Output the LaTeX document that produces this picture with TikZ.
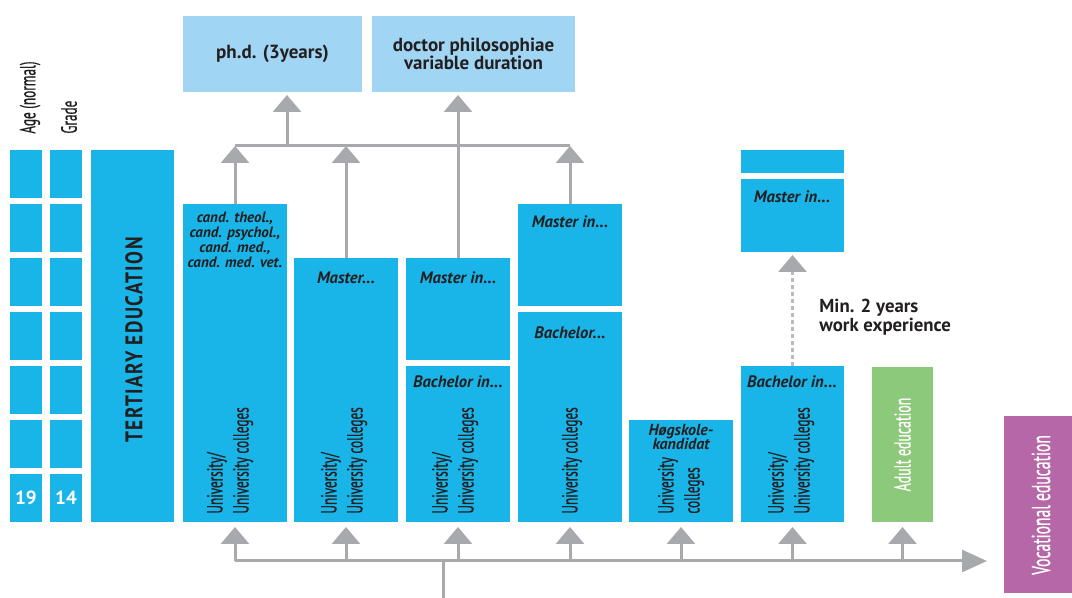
\documentclass[tikz,border=0pt]{standalone}
\usepackage{fontspec}
\setmainfont{PT Sans}
\newfontfamily\narrowfont[FakeStretch=0.6,FakeBold=0.5]{PT Sans}
\newfontfamily\tertfont[FakeStretch=0.8,LetterSpace=6.0]{PT Sans}
\usepackage{tikz}
\usetikzlibrary{arrows.meta}
\usepackage{xcolor}
\definecolor{edublue}{RGB}{25,181,233}
\definecolor{phdblue}{RGB}{160,214,244}
\definecolor{adultgreen}{RGB}{141,201,122}
\definecolor{vocpurple}{RGB}{182,103,167}
\definecolor{arrowgray}{RGB}{167,169,172}
\definecolor{dashgray}{RGB}{185,186,188}
\definecolor{inkdark}{RGB}{35,31,32}

\begin{document}
\begin{tikzpicture}[x=0.5pt, y=-0.5pt,
    box/.style={rectangle, fill=edublue, anchor=north west, inner sep=0pt, outer sep=0pt},
    topbox/.style={box, fill=phdblue, minimum height=38pt, align=center, text=inkdark,
        font=\bfseries\fontsize{9.5}{9}\selectfont},
    num/.style={text=white, font=\bfseries\fontsize{9.5}{11}\selectfont},
    lbl/.style={inner sep=0pt, align=center, text=inkdark, font=\bfseries\itshape\fontsize{8.3}{8}\selectfont},
    inst/.style={rotate=90, anchor=west, align=left, inner sep=0pt, text=inkdark,
        font=\narrowfont\fontsize{11}{13}\selectfont},
    gline/.style={draw=arrowgray, line width=1.5pt},
    uarr/.style={gline, -{Triangle[width=14pt, length=8.5pt]}}
]
    \useasboundingbox (0,0) rectangle (1072,598);

    % Age and grade
    \node[inst] (agehead) at (30,134) {Age (normal)};
    \node[inst] (gradehead) at (69,134) {Grade};
    \node[box, minimum width=16pt, minimum height=24pt] (age1) at (10,150) {};
    \node[box, minimum width=16pt, minimum height=24pt] (age2) at (10,204) {};
    \node[box, minimum width=16pt, minimum height=24pt] (age3) at (10,258) {};
    \node[box, minimum width=16pt, minimum height=24pt] (age4) at (10,312) {};
    \node[box, minimum width=16pt, minimum height=24pt] (age5) at (10,366) {};
    \node[box, minimum width=16pt, minimum height=24pt] (age6) at (10,420) {};
    \node[box, minimum width=16pt, minimum height=24pt, num] (age7) at (10,474) {19};
    \node[box, minimum width=16pt, minimum height=24pt] (grade1) at (50,150) {};
    \node[box, minimum width=16pt, minimum height=24pt] (grade2) at (50,204) {};
    \node[box, minimum width=16pt, minimum height=24pt] (grade3) at (50,258) {};
    \node[box, minimum width=16pt, minimum height=24pt] (grade4) at (50,312) {};
    \node[box, minimum width=16pt, minimum height=24pt] (grade5) at (50,366) {};
    \node[box, minimum width=16pt, minimum height=24pt] (grade6) at (50,420) {};
    \node[box, minimum width=16pt, minimum height=24pt, num] (grade7) at (50,474) {14};

    % Tertiary education
    \node[box, minimum width=41.5pt, minimum height=186pt] (tert) at (91,150) {};
    \node[rotate=90, inner sep=0pt, text=inkdark, font=\tertfont\bfseries\fontsize{12}{14}\selectfont]
        (tertlbl) at (134,340) {TERTIARY EDUCATION};

    % Doctoral level
    \node[topbox, minimum width=89.5pt] (phd) at (183,16) {ph.d. (3years)};
    \node[topbox, minimum width=101.5pt] (dphil) at (372,16) {doctor philosophiae\\variable duration};

    % Study programmes
    \node[box, minimum width=52pt, minimum height=159pt] (cand) at (183,204) {};
    \node[lbl, font=\bfseries\itshape\fontsize{7.5}{7.4}\selectfont] (candlbl) at (235,240)
        {cand. theol.,\\cand. psychol.,\\cand. med.,\\cand. med. vet.};
    \node[inst] (candinst) at (230,514) {University/\\University colleges};

    \node[box, minimum width=52pt, minimum height=132pt] (mast) at (294,258) {};
    \node[lbl] (mastlbl) at (346,278) {Master...};
    \node[inst] (mastinst) at (344,514) {University/\\University colleges};

    \node[box, minimum width=52pt, minimum height=51pt] (uniM) at (406,258) {};
    \node[lbl] (uniMlbl) at (458,278) {Master in...};
    \node[box, minimum width=52pt, minimum height=78pt] (uniB) at (406,366) {};
    \node[lbl] (uniBlbl) at (458,382) {Bachelor in...};
    \node[inst] (uniinst) at (455,514) {University/\\University colleges};

    \node[box, minimum width=52pt, minimum height=51pt] (colM) at (518,204) {};
    \node[lbl] (colMlbl) at (570,222) {Master in...};
    \node[box, minimum width=52pt, minimum height=105pt] (colB) at (518,312) {};
    \node[lbl] (colBlbl) at (570,333) {Bachelor...};
    \node[inst] (colinst) at (572,514) {University colleges};

    \node[box, minimum width=52pt, minimum height=51pt] (hsk) at (629,420) {};
    \node[lbl, font=\bfseries\itshape\fontsize{8}{7.4}\selectfont] (hsklbl) at (681,437) {Høgskole-\\kandidat};
    \node[inst] (hskinst) at (681,514) {University\\colleges};

    \node[box, minimum width=51.5pt, minimum height=11.5pt] (expT) at (741,150) {};
    \node[box, minimum width=51.5pt, minimum height=36.5pt] (expM) at (741,179) {};
    \node[lbl] (expMlbl) at (792,197) {Master in...};
    \node[box, minimum width=51.5pt, minimum height=78pt] (expB) at (741,366) {};
    \node[lbl] (expBlbl) at (792,382) {Bachelor in...};
    \node[inst] (expinst) at (791,514) {University/\\University colleges};
    \node[anchor=west, align=left, inner sep=0pt, text=inkdark, font=\bfseries\fontsize{9.4}{9.8}\selectfont]
        (worklbl) at (819,317) {Min. 2 years\\work experience};

    % Adult and vocational education
    \node[box, fill=adultgreen, minimum width=30.5pt, minimum height=77.5pt] (adult) at (872,367) {};
    \node[rotate=90, inner sep=0pt, text=white, font=\narrowfont\fontsize{11.5}{13}\selectfont]
        (adultlbl) at (adult.center) {Adult education};
    \node[box, fill=vocpurple, minimum width=36pt, minimum height=88.5pt] (voc) at (1004,416) {};
    \node[rotate=90, inner sep=0pt, text=white, font=\narrowfont\fontsize{13}{15}\selectfont]
        (voclbl) at (1041,505) {Vocational education};

    % Upper connectors
    \coordinate (topbar) at (0,146);
    \coordinate (phdfoot) at (287,146);
    \draw[gline] (cand.north |- topbar) -- (colM.north |- topbar);
    \draw[uarr] (cand.north) -- (cand.north |- topbar);
    \draw[uarr] (mast.north) -- (mast.north |- topbar);
    \draw[uarr] (colM.north) -- (colM.north |- topbar);
    \draw[uarr, shorten >=1.5pt] (phdfoot) -- (phdfoot |- phd.south);
    \draw[uarr, shorten >=1.5pt] (uniM.north) -- (uniM.north |- dphil.south);
    \draw[draw=dashgray, line width=1.5pt, dash pattern=on 2pt off 1.5pt,
        -{Triangle[width=14pt, length=8.5pt, color=arrowgray]}, shorten >=1.5pt] (expB.north) -- (expM.south);

    % Lower connectors
    \coordinate (root) at (443,598);
    \coordinate (busy) at (0,561);
    \coordinate (busr) at (987,561);
    \draw[gline] (root) -- (root |- busy);
    \draw[gline, -{Triangle[width=11pt, length=12.5pt]}] (cand.south |- busy) -- (busr);
    \draw[uarr, shorten >=2.5pt] (cand.south |- busy) -- (cand.south);
    \draw[uarr, shorten >=2.5pt] (mast.south |- busy) -- (mast.south);
    \draw[uarr, shorten >=2.5pt] (uniB.south |- busy) -- (uniB.south);
    \draw[uarr, shorten >=2.5pt] (colB.south |- busy) -- (colB.south);
    \draw[uarr, shorten >=2.5pt] (hsk.south |- busy) -- (hsk.south);
    \draw[uarr, shorten >=2.5pt] (expB.south |- busy) -- (expB.south);
    \draw[uarr, shorten >=2.5pt] (adult.south |- busy) -- (adult.south);
\end{tikzpicture}
\end{document}
